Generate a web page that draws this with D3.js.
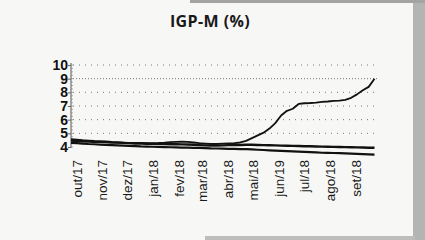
<!DOCTYPE html>
<html>
<head>
<meta charset="utf-8">
<script src="https://cdn.jsdelivr.net/npm/d3@7/dist/d3.min.js"></script>
<style>
  html, body { margin: 0; padding: 0; background: #f7f7f5; }
  svg { display: block; }
</style>
</head>
<body>
<svg id="chart" width="425" height="240"></svg>
<script>
// weekly observations, Focus survey style (IGP-M expectations)
const dates = [
  '2017-09-24','2017-10-01','2017-10-08','2017-10-15','2017-10-22','2017-10-29',
  '2017-11-05','2017-11-12','2017-11-19','2017-11-26','2017-12-03','2017-12-10',
  '2017-12-17','2017-12-24','2017-12-31','2018-01-07','2018-01-14','2018-01-21',
  '2018-01-28','2018-02-04','2018-02-11','2018-02-18','2018-02-25','2018-03-04',
  '2018-03-11','2018-03-18','2018-03-25','2018-04-01','2018-04-08','2018-04-15',
  '2018-04-22','2018-04-29','2018-05-06','2018-05-13','2018-05-20','2018-05-27',
  '2018-06-03','2018-06-10','2018-06-17','2018-06-24','2018-07-01','2018-07-08',
  '2018-07-15','2018-07-22','2018-07-29','2018-08-05','2018-08-12','2018-08-19',
  '2018-08-26','2018-09-02','2018-09-09','2018-09-16','2018-09-23'
];

const igpmCurrent = [
  4.45, 4.42, 4.40, 4.38, 4.36, 4.35, 4.34, 4.33, 4.32, 4.31, 4.30, 4.30,
  4.30, 4.29, 4.29, 4.30, 4.32, 4.35, 4.38, 4.40, 4.38, 4.33, 4.28, 4.25,
  4.22, 4.22, 4.24, 4.26, 4.28, 4.33, 4.45, 4.65, 4.85, 5.05, 5.35, 5.75,
  6.30, 6.65, 6.80, 7.15, 7.20, 7.22, 7.25, 7.30, 7.33, 7.37, 7.40, 7.45,
  7.60, 7.85, 8.15, 8.40, 9.00
];

const igpmNext = [
  4.55, 4.52, 4.48, 4.45, 4.42, 4.40, 4.38, 4.35, 4.33, 4.30, 4.28, 4.26,
  4.25, 4.24, 4.23, 4.22, 4.21, 4.20, 4.20, 4.19, 4.18, 4.16, 4.14, 4.12,
  4.10, 4.10, 4.12, 4.14, 4.15, 4.15, 4.16, 4.16, 4.15, 4.14, 4.13, 4.12,
  4.10, 4.09, 4.08, 4.07, 4.06, 4.05, 4.04, 4.03, 4.02, 4.01, 4.00, 3.99,
  3.98, 3.97, 3.96, 3.95, 3.94
];

const igpmLong = [
  4.30, 4.28, 4.25, 4.22, 4.20, 4.18, 4.16, 4.14, 4.12, 4.10, 4.08, 4.06,
  4.04, 4.03, 4.02, 4.00, 3.99, 3.98, 3.97, 3.96, 3.95, 3.94, 3.93, 3.92,
  3.90, 3.89, 3.88, 3.87, 3.86, 3.85, 3.84, 3.82, 3.80, 3.78, 3.76, 3.74,
  3.72, 3.70, 3.68, 3.66, 3.64, 3.62, 3.60, 3.58, 3.57, 3.56, 3.55, 3.54,
  3.52, 3.50, 3.48, 3.46, 3.44
];

const yTicks = [4, 5, 6, 7, 8, 9, 10];
const monthLabels = ['out/17','nov/17','dez/17','jan/18','fev/18','mar/18',
                     'abr/18','mai/18','jun/19','jul/18','ago/18','set/18'];
const monthStarts = ['2017-10-01','2017-11-01','2017-12-01','2018-01-01','2018-02-01','2018-03-01',
                     '2018-04-01','2018-05-01','2018-06-01','2018-07-01','2018-08-01','2018-09-01'];

const parse = d3.timeParse('%Y-%m-%d');
const svg = d3.select('#chart');

// scanned-paper edges
svg.append('rect').attr('x', 0).attr('y', 0).attr('width', 425).attr('height', 240).attr('fill', '#f7f7f5');
svg.append('rect').attr('x', 413).attr('y', 0).attr('width', 12).attr('height', 240).attr('fill', '#b4b4b2');
svg.append('rect').attr('x', 190).attr('y', 0).attr('width', 235).attr('height', 3).attr('fill', '#a4a4a2');
svg.append('rect').attr('x', 205).attr('y', 236).attr('width', 210).attr('height', 4).attr('fill', '#bdbdbb');

const x = d3.scaleTime()
  .domain([parse('2017-09-24'), parse('2018-09-26')])
  .range([71, 377]);

const y = d3.scaleLinear()
  .domain([4, 10])
  .range([147, 65]);

// title
svg.append('text')
  .attr('x', 210)
  .attr('y', 27)
  .attr('text-anchor', 'middle')
  .attr('font-family', 'Open Sans, sans-serif')
  .attr('font-weight', 700)
  .attr('font-size', 16)
  .attr('letter-spacing', 0.4)
  .attr('fill', '#1a1a1a')
  .text('IGP-M (%)');

// dotted gridlines
svg.append('g')
  .selectAll('line')
  .data(yTicks.slice(1))
  .join('line')
  .attr('x1', 73)
  .attr('x2', 377)
  .attr('y1', d => y(d))
  .attr('y2', d => y(d))
  .attr('stroke', '#777')
  .attr('stroke-width', 1)
  .attr('stroke-dasharray', d => d === 9 ? '1,2' : '1,5');

// y axis
const yAxis = svg.append('g')
  .attr('transform', 'translate(71,0)')
  .call(d3.axisLeft(y).tickValues(yTicks).tickSize(3).tickFormat(d3.format('d')));
yAxis.select('.domain').attr('stroke', '#555').attr('d', `M0,${y(10) - 2}V${y(4) + 1}`);
yAxis.selectAll('.tick line').attr('stroke', '#666');
yAxis.selectAll('text')
  .attr('x', -3)
  .attr('font-family', 'Liberation Sans, Arial, sans-serif')
  .attr('font-weight', 700)
  .attr('font-size', 14)
  .attr('fill', '#111');

// minor ticks
svg.append('g')
  .selectAll('line')
  .data(d3.range(4, 10.01, 0.25))
  .join('line')
  .attr('x1', 71).attr('x2', 73)
  .attr('y1', d => y(d)).attr('y2', d => y(d))
  .attr('stroke', '#888')
  .attr('stroke-width', 0.7);

// series
const line = d3.line()
  .x((d, i) => x(parse(dates[i])))
  .y(d => y(d));

const series = [
  { values: igpmLong, width: 2.2 },
  { values: igpmNext, width: 2.4 },
  { values: igpmCurrent, width: 1.8 }
];

svg.append('g')
  .selectAll('path')
  .data(series)
  .join('path')
  .attr('d', d => line(d.values))
  .attr('fill', 'none')
  .attr('stroke', '#111')
  .attr('stroke-width', d => d.width)
  .attr('stroke-linejoin', 'round');

// month labels
svg.append('g')
  .selectAll('text')
  .data(monthLabels)
  .join('text')
  .attr('transform', (d, i) => `translate(${x(parse(monthStarts[i]))},160) rotate(-90)`)
  .attr('dy', '0.35em')
  .attr('text-anchor', 'end')
  .attr('font-family', 'Liberation Sans, Arial, sans-serif')
  .attr('font-size', 13.5)
  .attr('fill', '#1a1a1a')
  .text(d => d);
</script>
</body>
</html>
